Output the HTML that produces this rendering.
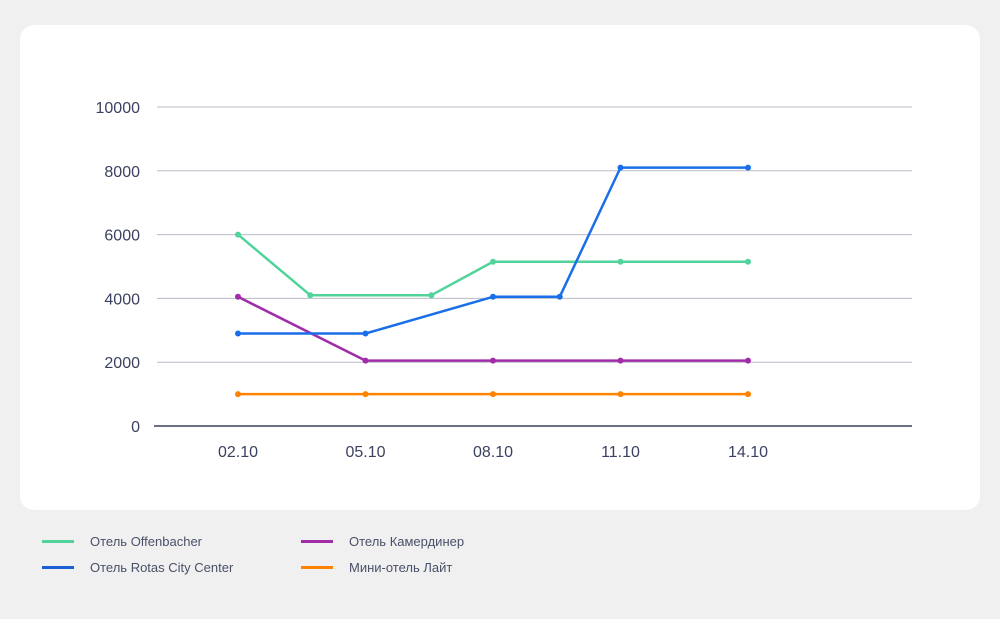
<!DOCTYPE html>
<html><head><meta charset="utf-8">
<style>
body{margin:0;width:1000px;height:619px;background:#f0f0f0;font-family:"Liberation Sans",sans-serif;overflow:hidden;position:relative}
#card{position:absolute;left:20px;top:25px;width:960px;height:485px;background:#fff;border-radius:14px}
svg{position:absolute;left:0;top:0}
.leg{position:absolute;font-size:13px;color:#4a5068}
.sw{position:absolute;width:32px;height:3px}
</style></head><body>
<div id="card"></div>
<svg id="chart" width="1000" height="619"></svg>
<div class="sw" style="left:42px;top:540px;background:#52d39b"></div>
<div class="leg" style="left:90px;top:534px">Отель Offenbacher</div>
<div class="sw" style="left:42px;top:566px;background:#1a5ed6"></div>
<div class="leg" style="left:90px;top:560px">Отель Rotas City Center</div>
<div class="sw" style="left:301px;top:540px;background:#a12ca8"></div>
<div class="leg" style="left:349px;top:534px">Отель Камердинер</div>
<div class="sw" style="left:301px;top:566px;background:#ff8200"></div>
<div class="leg" style="left:349px;top:560px">Мини-отель Лайт</div>
<script>
const yTicks=[0,2000,4000,6000,8000,10000];
const xTickDays=[2,5,8,11,14];
const xTickLabels=["02.10","05.10","08.10","11.10","14.10"];
const greenX=[2,3.7,6.55,8,11,14];
const greenY=[6000,4100,4100,5150,5150,5150];
const blueX=[2,5,8,9.57,11,14];
const blueY=[2900,2900,4050,4050,8100,8100];
const purpleX=[2,5,8,11,14];
const purpleY=[4050,2050,2050,2050,2050];
const orangeX=[2,5,8,11,14];
const orangeY=[1000,1000,1000,1000,1000];
const ns="http://www.w3.org/2000/svg";
const svg=document.getElementById('chart');
const xs=d=>238+(d-2)*42.5;
const ys=v=>426-v*0.0319;
function mk(t,a){const e=document.createElementNS(ns,t);for(const k in a)e.setAttribute(k,a[k]);svg.appendChild(e);return e;}
yTicks.forEach(v=>{
 const l=mk('line',{x1:v===0?154:157,x2:912,y1:ys(v),y2:ys(v),stroke:v===0?'#6b7185':'#b8bcc8','stroke-width':v===0?2:1});
 
 
 const t=mk('text',{x:140,y:ys(v)+6,'text-anchor':'end','font-size':16,fill:'#3b4160','font-family':'Liberation Sans, sans-serif'});
 t.textContent=v;
 
 
});
xTickDays.forEach((d,i)=>{
 const t=mk('text',{x:xs(d),y:457,'text-anchor':'middle','font-size':16,fill:'#3b4160','font-family':'Liberation Sans, sans-serif'});
 t.textContent=xTickLabels[i];
 
 
});
function series(X,Y,c,name){
 const p=mk('polyline',{points:X.map((x,i)=>xs(x)+','+ys(Y[i])).join(' '),fill:'none',stroke:c,'stroke-width':2.5,'stroke-linejoin':'round'});
 
 
 X.forEach((x,i)=>{
  const ci=mk('circle',{cx:xs(x),cy:ys(Y[i]),r:3,fill:c});
  
  
 });
}
series(orangeX,orangeY,'#ff8200','lait');
series(purpleX,purpleY,'#a12ca8','kamerdiner');
series(greenX,greenY,'#52d39b','offenbacher');
series(blueX,blueY,'#1a6fe8','rotas');
</script>
</body></html>
